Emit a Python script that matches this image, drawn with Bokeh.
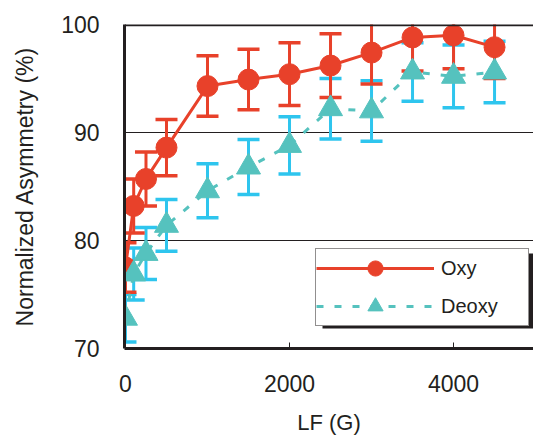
from bokeh.plotting import figure
from bokeh.models import (ColumnDataSource, Range1d, FixedTicker, Span, Legend,
                          LegendItem, BoxAnnotation)
from bokeh.embed import file_html
from bokeh.resources import INLINE

# ---- data ----
lf = [0, 100, 250, 500, 1000, 1500, 2000, 2500, 3000, 3500, 4000, 4500]
oxy = [77.5, 83.2, 85.7, 88.6, 94.3, 94.9, 95.4, 96.2, 97.4, 98.8, 99.0, 97.9]
oxy_err = [2.3, 2.5, 2.5, 2.6, 2.8, 2.8, 2.9, 2.95, 2.9, 3.1, 3.1, 2.9]
deoxy = [72.8, 76.9, 78.8, 81.4, 84.6, 86.8, 88.8, 92.2, 92.0, 95.6, 95.2, 95.6]
deoxy_err = [2.2, 2.4, 2.4, 2.4, 2.5, 2.55, 2.65, 2.8, 2.8, 2.7, 2.9, 2.85]
x_ticks = [0, 2000, 4000]
y_ticks = [70, 80, 90, 100]

RED = "#E8412A"
TEAL = "#55C2BE"
CYAN = "#2EC5EE"
INK = "#231F20"
FONT = "Liberation Sans"

src_o = ColumnDataSource(dict(
    x=lf, y=oxy,
    lo=[v - e for v, e in zip(oxy, oxy_err)],
    hi=[v + e for v, e in zip(oxy, oxy_err)]))
src_d = ColumnDataSource(dict(
    x=lf, y=deoxy,
    lo=[v - e for v, e in zip(deoxy, deoxy_err)],
    hi=[v + e for v, e in zip(deoxy, deoxy_err)]))

p = figure(width=533, height=437, output_backend="svg", toolbar_location=None,
           x_range=Range1d(-12, 4975), y_range=Range1d(70, 100),
           min_border_left=124, min_border_right=0, min_border_top=24,
           min_border_bottom=89)
p.outline_line_color = None
p.background_fill_color = "white"

# grid
p.xgrid.grid_line_color = None
p.ygrid.ticker = FixedTicker(ticks=[80, 90])
p.ygrid.grid_line_color = INK
p.ygrid.grid_line_width = 1

# axes
for ax in (p.xaxis[0], p.yaxis[0]):
    ax.axis_line_color = INK
    ax.axis_line_width = 3
    ax.major_label_text_font = FONT
    ax.major_label_text_font_size = "23px"
    ax.major_label_text_color = INK
    ax.axis_label_text_font = FONT
    ax.axis_label_text_font_style = "normal"
    ax.axis_label_text_color = INK
    ax.minor_tick_line_color = None

p.xaxis.ticker = FixedTicker(ticks=x_ticks)
p.xaxis.major_tick_in = 6
p.xaxis.major_tick_out = 0
p.xaxis.major_tick_line_color = INK
p.xaxis.major_label_standoff = 26
p.xaxis.axis_label = "LF (G)"
p.xaxis.axis_label_text_font_size = "22px"
p.xaxis.axis_label_standoff = 15

p.yaxis.ticker = FixedTicker(ticks=y_ticks)
p.yaxis.major_tick_in = 0
p.yaxis.major_tick_out = 0
p.yaxis.major_label_standoff = 25
p.yaxis.axis_label = "Normalized Asymmetry (%)"
p.yaxis.axis_label_text_font_size = "23px"
p.yaxis.axis_label_standoff = 20

# top frame line
p.add_layout(Span(location=100, dimension="width", line_color=INK, line_width=3.5))

# error bars (deoxy first, then oxy)
p.segment("x", "lo", "x", "hi", source=src_d, line_color=CYAN, line_width=3)
p.scatter("x", "lo", source=src_d, marker="dash", size=22, line_color=CYAN, line_width=3.5)
p.scatter("x", "hi", source=src_d, marker="dash", size=22, line_color=CYAN, line_width=3.5)
p.segment("x", "lo", "x", "hi", source=src_o, line_color=RED, line_width=3)
p.scatter("x", "lo", source=src_o, marker="dash", size=22, line_color=RED, line_width=3.5)
p.scatter("x", "hi", source=src_o, marker="dash", size=22, line_color=RED, line_width=3.5)

# series
l_o = p.line("x", "y", source=src_o, line_color=RED, line_width=3)
m_o = p.scatter("x", "y", source=src_o, marker="circle", size=21,
                fill_color=RED, line_color=RED)
l_d = p.line("x", "y", source=src_d, line_color=TEAL, line_width=3, line_dash="7 11")
m_d = p.scatter("x", "y", source=src_d, marker="triangle", size=24,
                fill_color=TEAL, line_color=TEAL)

# legend shadow
shadow = BoxAnnotation(left=322, right=540, top=253, bottom=328,
                       left_units="canvas", right_units="canvas",
                       top_units="canvas", bottom_units="canvas",
                       fill_color=INK, fill_alpha=1, line_color=None)
p.add_layout(shadow)

legend = Legend(items=[LegendItem(label="Oxy", renderers=[l_o, m_o]),
                       LegendItem(label="Deoxy", renderers=[l_d, m_d])],
                location=(191, 22), orientation="vertical",
                glyph_width=118, glyph_height=38, label_height=38,
                label_width=87, label_standoff=7, spacing=-4, padding=0,
                margin=0,
                label_text_font=FONT, label_text_font_size="20px",
                label_text_color=INK,
                border_line_color=INK, border_line_width=1,
                background_fill_color="white", background_fill_alpha=1)
p.add_layout(legend)

open("out.html", "w").write(file_html(p, INLINE))
